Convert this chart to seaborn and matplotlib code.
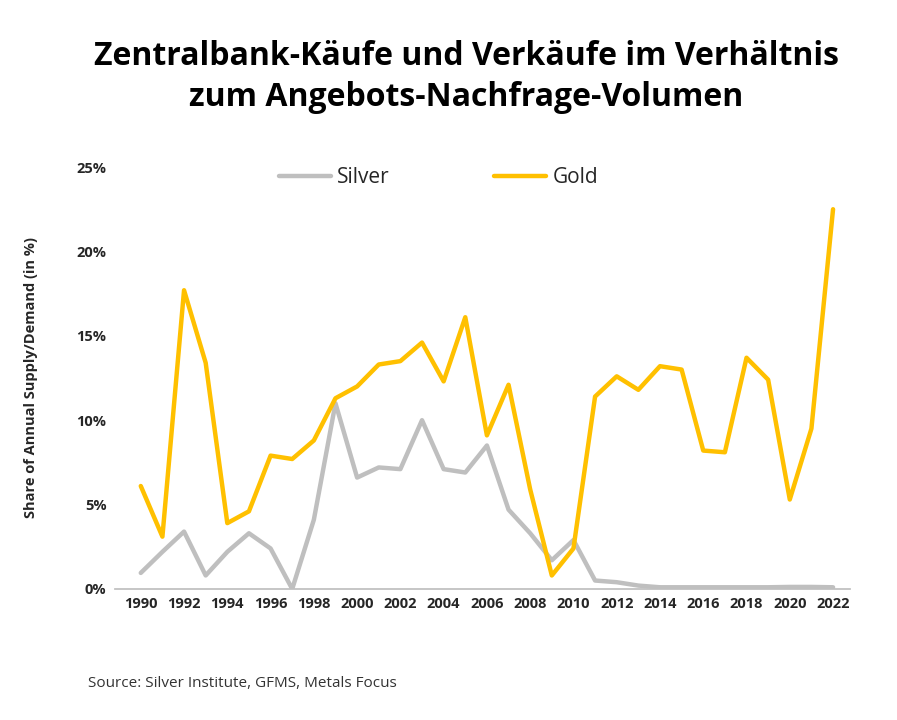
import matplotlib
matplotlib.use("Agg")
import matplotlib.pyplot as plt
import seaborn as sns
import pandas as pd

sns.set_theme(style="white")
plt.rcParams['font.family'] = ['Open Sans', 'DejaVu Sans']

years = list(range(1990, 2023))
gold = [6.1, 3.1, 17.7, 13.4, 3.9, 4.6, 7.9, 7.7, 8.8, 11.3, 12.0, 13.3, 13.5, 14.6, 12.3, 16.1,
        9.1, 12.1, 5.9, 0.8, 2.4, 11.4, 12.6, 11.8, 13.2, 13.0, 8.2, 8.1, 13.7, 12.4, 5.3, 9.5, 22.5]
silver = [0.95, 2.2, 3.4, 0.8, 2.2, 3.3, 2.4, 0.0, 4.1, 11.0, 6.6, 7.2, 7.1, 10.0, 7.1, 6.9,
          8.5, 4.7, 3.3, 1.7, 2.9, 0.5, 0.4, 0.2, 0.1, 0.1, 0.1, 0.1, 0.1, 0.1, 0.12, 0.12, 0.1]

df = pd.DataFrame({"Year": years * 2, "Value": silver + gold,
                   "Metal": ["Silver"] * len(years) + ["Gold"] * len(years)})

fig = plt.figure(figsize=(8.97, 7.2), dpi=100)
ax = fig.add_axes([0.128, 0.182, 0.82, 0.586])
sns.lineplot(data=df, x="Year", y="Value", hue="Metal",
             palette={"Silver": "#BFBFBF", "Gold": "#FFC000"}, linewidth=3.2, ax=ax)
ax.set_xlim(1988.8, 2022.8)
ax.set_ylim(0, 25)
ax.set_xticks(years[::2])
ax.set_xticklabels([str(y) for y in years[::2]], fontweight="bold", fontsize=10.5)
ax.set_yticks([0, 5, 10, 15, 20, 25])
ax.set_yticklabels([f"{v}%" for v in [0, 5, 10, 15, 20, 25]], fontweight="bold", fontsize=10.5)
ax.set_xlabel("")
ax.set_ylabel("Share of Annual Supply/Demand (in %)", fontweight="bold", fontsize=10.5, labelpad=28)
for s in ["top", "right", "left"]:
    ax.spines[s].set_visible(False)
ax.spines["bottom"].set_color("#BFBFBF")
ax.tick_params(axis="both", length=0, pad=6)
ax.legend(loc="upper center", bbox_to_anchor=(0.44, 1.045), ncol=2, frameon=False,
          fontsize=15, handlelength=2.5, columnspacing=5, handletextpad=0.3)

fig.text(0.52, 0.893, "Zentralbank-Käufe und Verkäufe im Verhältnis\nzum Angebots-Nachfrage-Volumen",
         ha="center", va="center", fontsize=23, fontweight="bold", linespacing=1.3, color="black")
fig.text(0.098, 0.046, "Source: Silver Institute, GFMS, Metals Focus", fontsize=11, color="#333333")
fig.savefig("out.png", dpi=100)
